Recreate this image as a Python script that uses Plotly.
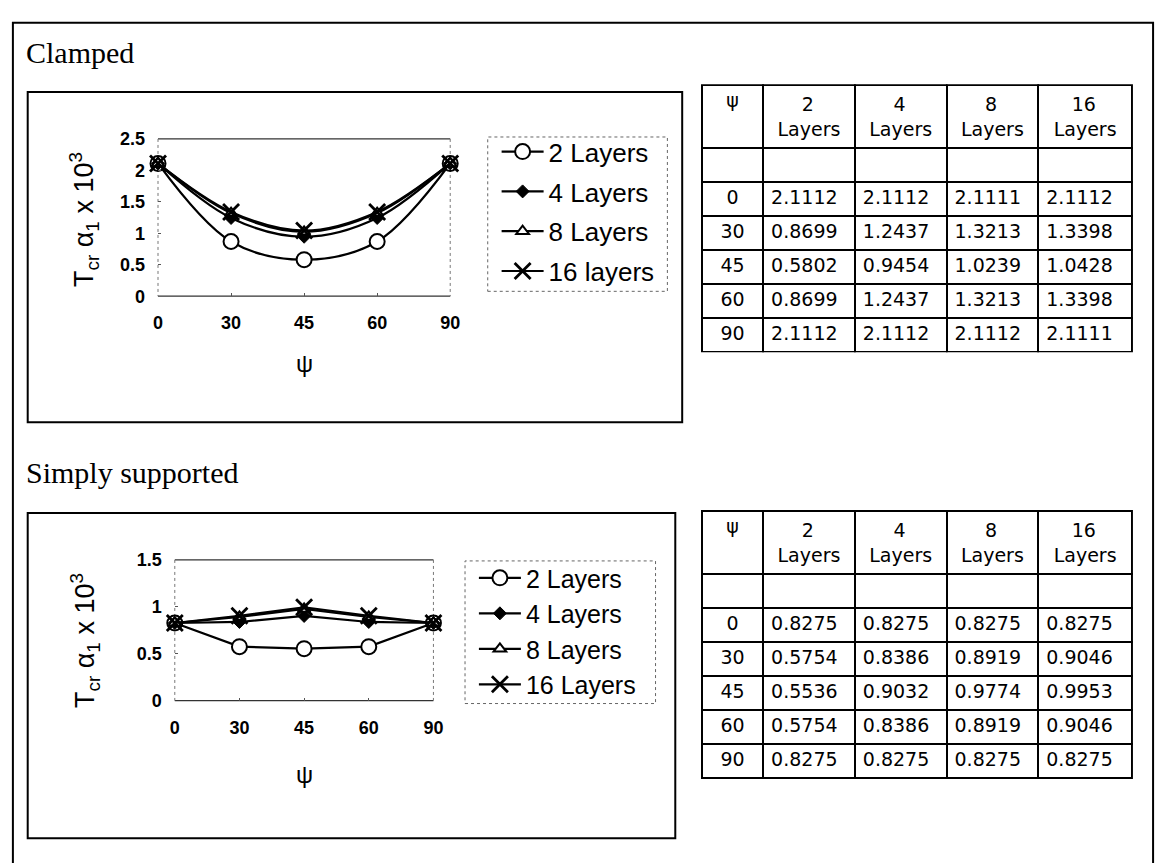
import plotly.graph_objects as go

W, H = 1169, 863

# ---------------- data ----------------
psi = [0, 30, 45, 60, 90]
layer_names = ["2 Layers", "4 Layers", "8 Layers", "16 layers"]
layer_names_ss = ["2 Layers", "4 Layers", "8 Layers", "16 Layers"]
header_layers = ["2", "4", "8", "16"]

clamped_2 = [2.1112, 0.8699, 0.5802, 0.8699, 2.1112]
clamped_4 = [2.1112, 1.2437, 0.9454, 1.2437, 2.1112]
clamped_8 = [2.1111, 1.3213, 1.0239, 1.3213, 2.1112]
clamped_16 = [2.1112, 1.3398, 1.0428, 1.3398, 2.1111]

ss_2 = [0.8275, 0.5754, 0.5536, 0.5754, 0.8275]
ss_4 = [0.8275, 0.8386, 0.9032, 0.8386, 0.8275]
ss_8 = [0.8275, 0.8919, 0.9774, 0.8919, 0.8275]
ss_16 = [0.8275, 0.9046, 0.9953, 0.9046, 0.8275]

clamped_yticks = [0, 0.5, 1, 1.5, 2, 2.5]
ss_yticks = [0, 0.5, 1, 1.5]

# ---------------- helpers ----------------
def X(px):
    return px / W

def Y(py):
    return 1 - py / H

SANS = "Liberation Sans"
SERIF = "Liberation Serif"
TABLE_FONT = "DejaVu Sans"
NB = "\u00a0"

markers = [
    dict(symbol="circle", size=15, color="white", line=dict(color="black", width=2)),
    dict(symbol="diamond", size=10, color="black", line=dict(color="black", width=1)),
    dict(symbol="triangle-up", size=11, color="white", line=dict(color="black", width=2)),
    dict(symbol="x-thin", size=16, color="black", line=dict(color="black", width=2.8)),
]

xcats = [str(v) for v in psi]

fig = go.Figure()

clamped = [clamped_2, clamped_4, clamped_8, clamped_16]
ss = [ss_2, ss_4, ss_8, ss_16]

for i, (vals, name) in enumerate(zip(clamped, layer_names)):
    fig.add_trace(go.Scatter(
        x=xcats, y=vals, name=name, mode="lines+markers",
        line=dict(color="black", width=2.2, shape="spline", smoothing=1.0),
        marker=markers[i], cliponaxis=False, legend="legend",
        legendgroup=f"c{i}", xaxis="x", yaxis="y"))

for i, (vals, name) in enumerate(zip(ss, layer_names_ss)):
    fig.add_trace(go.Scatter(
        x=xcats, y=vals, name=name, mode="lines+markers",
        line=dict(color="black", width=2.2),
        marker=markers[i], cliponaxis=False, legend="legend2",
        legendgroup=f"s{i}", xaxis="x2", yaxis="y2"))

# ---------------- tables ----------------
def header_label(h):
    pad = NB * (4 if len(h) == 1 else 3)
    return f"{pad}{h}<br>Layers"

def make_table(cols, y_top, y_bot):
    psi_col = [""] + [str(v) for v in psi]
    value_cols = [[""] + ["{:.4f}".format(v) for v in c] for c in cols]
    return go.Table(
        domain=dict(x=[X(706), X(1142)], y=[Y(y_bot + 6), Y(y_top)]),
        columnwidth=[62, 93, 93, 93, 95],
        header=dict(
            values=["ψ"] + [header_label(h) for h in header_layers],
            align="center",
            line=dict(color="black", width=2),
            fill=dict(color="white"),
            font=dict(family=TABLE_FONT, size=19, color="black"),
            height=56,
        ),
        cells=dict(
            values=[psi_col] + value_cols,
            align=["center", "left", "left", "left", "left"],
            line=dict(color="black", width=2),
            fill=dict(color="white"),
            font=dict(family=TABLE_FONT, size=19, color="black"),
            height=34,
        ),
    )

fig.add_trace(make_table(clamped, 77, 345))
fig.add_trace(make_table(ss, 513, 783))

# ---------------- axes ----------------
tickfont = dict(family=SANS, size=18, color="black", weight="bold")
common_x = dict(type="category", range=[0, 4], showgrid=False, zeroline=False,
                showline=False, ticks="inside", ticklen=3, tickcolor="#555",
                tickfont=tickfont, ticklabelstandoff=14, fixedrange=True)
common_y = dict(showgrid=False, zeroline=False, showline=False, ticks="inside",
                ticklen=3, tickcolor="#555", tickfont=tickfont,
                ticklabelstandoff=12, fixedrange=True)

fig.update_layout(
    width=W, height=H,
    margin=dict(l=0, r=0, t=0, b=0),
    paper_bgcolor="white", plot_bgcolor="white",
    showlegend=True,
    xaxis=dict(domain=[X(155), X(451)], anchor="y", **common_x),
    yaxis=dict(domain=[Y(293), Y(132)], anchor="x", range=[0, 2.5],
               tickvals=clamped_yticks, ticktext=[f"{v:g}" for v in clamped_yticks], **common_y),
    xaxis2=dict(domain=[X(172), X(434)], anchor="y2", **common_x),
    yaxis2=dict(domain=[Y(707), Y(563)], anchor="x2", range=[0, 1.5],
                tickvals=ss_yticks, ticktext=[f"{v:g}" for v in ss_yticks], **common_y),
    legend=dict(x=X(498), y=Y(121), xanchor="left", yanchor="top",
                font=dict(family=SANS, size=26, color="black"),
                bgcolor="rgba(0,0,0,0)", borderwidth=0, tracegroupgap=3, itemwidth=42),
    legend2=dict(x=X(475), y=Y(558), xanchor="left", yanchor="top",
                 font=dict(family=SANS, size=25, color="black"),
                 bgcolor="rgba(0,0,0,0)", borderwidth=0, tracegroupgap=0, itemwidth=42),
)

# ---------------- frames & boxes ----------------
shapes = []

def rect(x0, y0, x1, y1, width=2, color="black", dash="solid"):
    shapes.append(dict(type="rect", xref="paper", yref="paper",
                       x0=X(x0), x1=X(x1), y0=Y(y1), y1=Y(y0),
                       line=dict(color=color, width=width, dash=dash),
                       fillcolor="rgba(0,0,0,0)", layer="below"))

def line(x0, y0, x1, y1, width=1, color="#444", dash="solid"):
    shapes.append(dict(type="line", xref="paper", yref="paper",
                       x0=X(x0), x1=X(x1), y0=Y(y0), y1=Y(y1),
                       line=dict(color=color, width=width, dash=dash), layer="below"))

rect(8, 13, 1163, 900, width=2)          # outer frame
rect(23, 84, 686, 422, width=2)          # clamped chart box
rect(23, 515, 679, 848, width=2)         # simply supported chart box

# plot-area borders
for (l, t, r, b) in [(155, 132, 451, 293), (172, 563, 434, 707)]:
    line(l, t, r, t, width=1.2, color="#333")
    line(l, b, r, b, width=1.2, color="#333")
    line(l, t, l, b, width=1, color="#777", dash="dot")
    line(r, t, r, b, width=1, color="#777", dash="dot")

# legend boxes (dotted)
rect(489, 130, 671, 288, width=1, color="#666", dash="dot")
rect(466, 564, 659, 710, width=1, color="#666", dash="dot")

fig.update_layout(shapes=shapes)

# ---------------- text annotations ----------------
ann = []
ann.append(dict(text="Clamped", x=X(19), y=Y(44), xref="paper", yref="paper",
                xanchor="left", yanchor="middle", showarrow=False,
                font=dict(family=SERIF, size=30, color="black")))
ann.append(dict(text="Simply supported", x=X(19), y=Y(473), xref="paper", yref="paper",
                xanchor="left", yanchor="middle", showarrow=False,
                font=dict(family=SERIF, size=30, color="black")))

ytitle = "T<sub>cr</sub> α<sub>1</sub> x 10<sup>3</sup>"
ann.append(dict(text=ytitle, x=X(80), y=Y(214), xref="paper", yref="paper",
                textangle=-90, xanchor="center", yanchor="middle", showarrow=False,
                font=dict(family=SANS, size=27, color="black")))
ann.append(dict(text=ytitle, x=X(81), y=Y(645), xref="paper", yref="paper",
                textangle=-90, xanchor="center", yanchor="middle", showarrow=False,
                font=dict(family=SANS, size=27, color="black")))
ann.append(dict(text="ψ", x=X(303), y=Y(362), xref="paper", yref="paper",
                xanchor="center", yanchor="middle", showarrow=False,
                font=dict(family=SANS, size=24, color="black")))
ann.append(dict(text="ψ", x=X(303), y=Y(783), xref="paper", yref="paper",
                xanchor="center", yanchor="middle", showarrow=False,
                font=dict(family=SANS, size=24, color="black")))
fig.update_layout(annotations=ann)

fig.write_html("out.html")
